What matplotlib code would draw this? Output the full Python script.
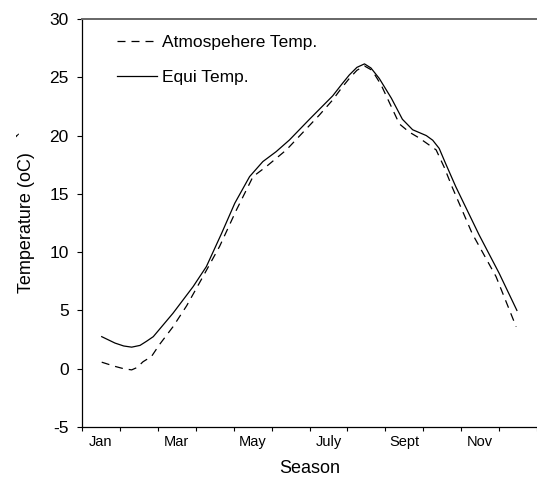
import matplotlib
matplotlib.use("Agg")
import matplotlib.pyplot as plt

plt.rcParams['font.family'] = ['Liberation Sans', 'DejaVu Sans']

# Month position (0 = start of Jan, 12 = end of Dec) and temperature (oC)
equi_month = [0.52, 0.87, 1.10, 1.31, 1.53, 1.70, 1.88, 2.40, 2.93, 3.28, 3.68,
              4.03, 4.42, 4.77, 5.12, 5.47, 6.00, 6.61, 6.85, 7.05, 7.25, 7.45,
              7.62, 7.84, 8.16, 8.45, 8.72, 9.08, 9.25, 9.42, 9.59, 9.86, 10.47,
              11.00, 11.47]
equi_temp = [2.75, 2.2, 1.95, 1.85, 2.0, 2.35, 2.75, 4.76, 7.04, 8.76, 11.6,
             14.2, 16.48, 17.77, 18.62, 19.62, 21.4, 23.4, 24.4, 25.2, 25.85, 26.15,
             25.8, 24.9, 23.2, 21.4, 20.5, 20.0, 19.6, 18.9, 17.6, 15.6, 11.5,
             8.2, 5.0]

atmos_month = [0.52, 0.87, 1.10, 1.31, 1.45, 1.61, 1.83, 2.05, 2.40, 2.76, 3.19,
               3.63, 4.07, 4.51, 4.86, 5.39, 6.26, 6.61, 6.85, 7.05, 7.25, 7.45,
               7.65, 7.89, 8.37, 8.63, 8.89, 9.34, 9.55, 9.76, 10.29, 10.92, 11.45]
atmos_temp = [0.56, 0.2, 0.0, -0.1, 0.1, 0.6, 1.04, 2.1, 3.6, 5.4, 7.9,
              10.5, 13.6, 16.48, 17.34, 18.77, 21.76, 23.05, 24.1, 24.9, 25.6, 25.97,
              25.6, 24.34, 21.0, 20.3, 19.8, 18.77, 17.3, 15.6, 11.6, 7.9, 3.6]

month_pos = [0.5, 2.5, 4.5, 6.5, 8.5, 10.5]
month_labels = ['Jan', 'Mar', 'May', 'July', 'Sept', 'Nov']
y_ticks = [-5, 0, 5, 10, 15, 20, 25, 30]

fig = plt.figure(figsize=(5.37, 4.83), dpi=100)
ax = fig.add_axes([82 / 537, 1 - 427 / 483, 1 - 82 / 537, (427 - 19) / 483])

ax.plot(atmos_month, atmos_temp, color='black', lw=0.9,
        linestyle=(0, (6.4, 4.8)), label='Atmospehere Temp.')
ax.plot(equi_month, equi_temp, color='black', lw=0.9, label='Equi Temp.')

ax.set_xlim(0, 12)
ax.set_ylim(-5, 30)

ax.set_xticks(range(0, 13))
ax.set_xticklabels([])
ax.set_xticks(month_pos, minor=True)
ax.set_xticklabels(month_labels, minor=True, fontsize=10.5)
ax.tick_params(axis='x', which='major', direction='out', length=3.2, width=0.8)
ax.tick_params(axis='x', which='minor', length=0, pad=6)

ax.set_yticks(y_ticks)
ax.set_yticklabels([str(v) for v in y_ticks], fontsize=12.5)
ax.tick_params(axis='y', direction='out', length=3.6, width=0.8, pad=6)

ax.spines['right'].set_visible(False)
ax.spines['top'].set_color('#666666')
ax.spines['top'].set_linewidth(1.4)
ax.spines['left'].set_linewidth(0.9)
ax.spines['bottom'].set_linewidth(0.9)

ax.set_xlabel('Season', fontsize=13, labelpad=8)
ax.set_ylabel('Temperature (oC)   `', fontsize=13)
ax.yaxis.set_label_coords(-0.103, 0.528)

ax.legend(loc='upper left', frameon=False, fontsize=12.5, handlelength=2.3,
          handletextpad=0.3, labelspacing=1.1, borderaxespad=0.3,
          bbox_to_anchor=(0.05, 0.99))

fig.savefig('out.png', dpi=100)
